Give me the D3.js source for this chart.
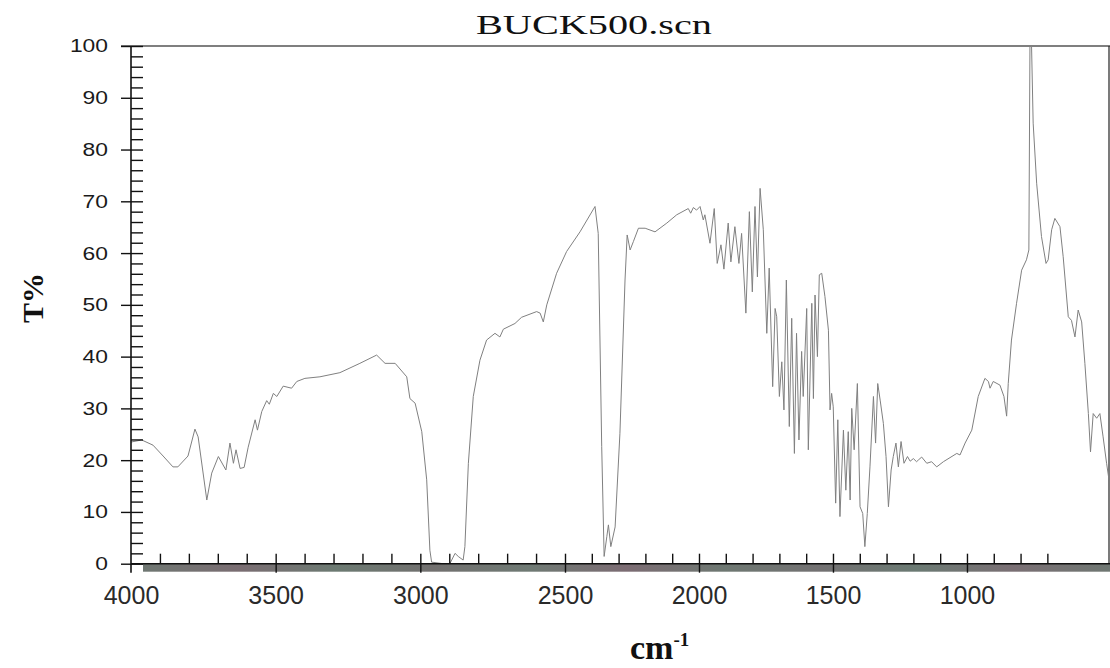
<!DOCTYPE html>
<html><head><meta charset="utf-8">
<script src="https://cdn.jsdelivr.net/npm/d3@7"></script>
<style>body{margin:0;background:#fff}svg{display:block}</style>
</head><body>
<svg id="chart" width="1110" height="668"></svg>
<script>
const chartTitle = "BUCK500.scn";
const xAxisTitle = "cm";
const xAxisTitleSup = "-1";
const yAxisTitle = "T%";
const xMajorTicks = [4000, 3500, 3000, 2500, 2000, 1500, 1000];
const xMinorTicks = d3.range(3900, 650, -100);
const yMajorTicks = [0, 10, 20, 30, 40, 50, 60, 70, 80, 90, 100];
const yMinorTicks = d3.range(0, 101, 2);

const wavenumber = [4000,3963,3924,3889,3855,3838,3803,3779,3768,3738,3721,3698,3672,3658,3646,3637,3623,3609,3595,3571,
3563,3548,3531,3522,3508,3496,3474,3445,3427,3399,3347,3278,3209,3151,3122,3087,3047,3036,3018,2995,
2978,2967,2961,2921,2898,2880,2869,2852,2846,2834,2817,2794,2771,2742,2725,2713,2673,2650,2598,2586,
2575,2563,2529,2494,2444,2388,2376,2363,2354,2344,2338,2329,2313,2295,2276,2268,2257,2245,2226,2201,
2164,2120,2083,2040,2031,2021,2009,1996,1984,1978,1959,1943,1932,1918,1907,1891,1881,1866,1851,1841,
1825,1812,1801,1791,1782,1772,1760,1747,1738,1725,1716,1710,1700,1691,1683,1674,1663,1654,1644,1636,
1627,1617,1611,1598,1592,1579,1573,1567,1558,1551,1542,1530,1517,1511,1505,1499,1490,1482,1474,1461,
1452,1443,1436,1430,1421,1409,1399,1389,1381,1372,1362,1349,1341,1333,1324,1312,1302,1293,1283,1275,
1265,1256,1246,1235,1222,1212,1200,1188,1182,1169,1150,1132,1113,1088,1038,1026,1007,982,958,933,
920,914,902,877,862,852,846,834,815,796,778,769,765,759,753,740,722,705,697,684,
672,653,641,622,610,597,585,572,560,547,539,529,516,504,492,479,470];

const transmittance = [23.5,23.9,22.9,20.8,18.7,18.7,20.8,26.0,24.5,12.3,17.5,20.7,18.1,23.3,19.4,22.0,18.4,18.6,22.5,27.8,
25.8,29.4,31.5,30.8,32.9,32.3,34.3,33.9,35.2,35.8,36.1,36.9,38.7,40.3,38.7,38.7,36.1,31.9,31.0,25.5,
16.2,2.6,0.3,0,0,2.0,1.4,0.7,3.3,19.4,32.3,39.3,43.2,44.5,43.8,45.3,46.4,47.6,48.7,48.4,
46.7,50.0,56.1,60.3,64.1,69.0,63.8,22.6,1.4,5.2,7.5,3.3,7.1,25.2,54.8,63.5,60.6,62.2,64.8,64.8,
64.1,65.8,67.4,68.6,67.7,68.8,68.3,69.0,66.4,67.4,61.9,68.6,58.0,61.6,56.9,65.8,58.3,65.1,58.0,63.8,
48.4,68.0,52.5,69.0,55.4,72.5,64.5,44.5,57.1,34.2,49.3,47.7,32.3,39.0,29.7,54.8,26.5,47.4,21.3,44.5,
23.9,41.0,32.3,49.3,22.0,50.3,31.9,51.9,40.0,55.8,56.1,51.6,45.1,29.7,32.9,30.3,11.7,27.8,9.1,25.8,
14.2,25.5,12.3,30.0,22.0,34.8,11.0,9.7,3.3,9.7,18.7,32.3,23.3,34.8,31.6,27.1,20.7,11.0,18.1,20.7,
23.3,18.7,23.6,19.4,20.7,19.8,20.3,19.7,20.0,20.6,19.4,19.7,18.7,19.7,21.3,21.0,23.3,25.8,32.3,35.8,
35.2,33.9,35.2,34.5,32.3,28.5,34.8,43.2,50.3,56.7,58.7,60.6,100,100,85.1,73.5,63.2,58.0,58.7,64.5,
66.7,65.1,59.3,47.7,47.0,43.8,49.0,46.7,38.7,29.0,21.6,29.0,28.1,29.0,24.5,19.4,16.2];

const spectrum = wavenumber.map((w, i) => ({w, t: transmittance[i]}));

const svg = d3.select("#chart");
const x = d3.scaleLinear().domain([4000, 2500, 470]).range([131, 565, 1109]);
const y = d3.scaleLinear().domain([0, 100]).range([563.7, 46]);
const sans = "'Liberation Sans', Arial, sans-serif";
const serif = "'Liberation Serif', 'Times New Roman', serif";

// band below x axis (scanned plotter strip)
const defs = svg.append("defs");
const grad = defs.append("linearGradient").attr("id", "band").attr("x1", 0).attr("x2", 1);
const bandCols = ["#6f7772","#7a6d72","#6c7a72","#72706f","#6f7a74","#7c6c73","#6e7872","#737172","#6b7a73","#7a6f74","#6f7772"];
bandCols.forEach((c, i) => grad.append("stop").attr("offset", i / (bandCols.length - 1)).attr("stop-color", c));
svg.append("rect").attr("x", 143).attr("y", y(0)).attr("width", 1110 - 143).attr("height", 8).attr("fill", "url(#band)");

// frame: top line and right line
svg.append("line").attr("x1", 121).attr("x2", 1110).attr("y1", y(100)).attr("y2", y(100))
  .attr("stroke", "#555").attr("stroke-width", 1.5);
svg.append("line").attr("x1", 1109).attr("x2", 1109).attr("y1", y(100)).attr("y2", y(0))
  .attr("stroke", "#222").attr("stroke-width", 1.2);

// clip
defs.append("clipPath").attr("id", "plot").append("rect")
  .attr("x", 131).attr("y", y(100)).attr("width", 1109 - 131).attr("height", y(0) - y(100));

// spectrum line
svg.append("path").datum(spectrum)
  .attr("clip-path", "url(#plot)")
  .attr("fill", "none").attr("stroke", "#808080").attr("stroke-width", 1)
  .attr("stroke-linejoin", "round")
  .attr("d", d3.line().x(d => x(d.w)).y(d => y(d.t)));

function styleAxis(g) {
  g.selectAll(".domain").attr("stroke", "#111").attr("stroke-width", 1.6);
  g.selectAll(".tick line").attr("stroke", "#111").attr("stroke-width", 1.4);
}

// Y axis: labels + outer major ticks
const yAxisG = svg.append("g").attr("transform", "translate(131,0)")
  .call(d3.axisLeft(y).tickValues(yMajorTicks).tickSize(10).tickPadding(13).tickSizeOuter(0));
styleAxis(yAxisG);
yAxisG.select(".domain").attr("d", `M0,${y(100)}V${y(0) + 9}`);
yAxisG.selectAll("text")
  .attr("font-family", sans).attr("font-size", 18.5).attr("fill", "#1a1a1a")
  .attr("textLength", d => String(d).length * 12.7).attr("lengthAdjust", "spacingAndGlyphs");
// inner ticks (minor + major)
const yInner = svg.append("g").attr("transform", "translate(131,0)")
  .call(d3.axisRight(y).tickValues(yMinorTicks).tickSize(12).tickFormat("").tickSizeOuter(0));
yInner.select(".domain").remove();
styleAxis(yInner);

// X axis: labels
const xAxisG = svg.append("g").attr("transform", `translate(0,${y(0)})`)
  .call(d3.axisBottom(x).tickValues(xMajorTicks).tickFormat(d3.format("d")).tickSize(9).tickPadding(14).tickSizeOuter(0));
styleAxis(xAxisG);
xAxisG.select(".domain").attr("d", `M131,0H1110`);
xAxisG.selectAll(".tick").filter(d => d === 4000).select("line").remove();
xAxisG.selectAll("text").attr("font-family", sans).attr("font-size", 25).attr("fill", "#2a2a2a");
// inner x ticks
const xInner = svg.append("g").attr("transform", `translate(0,${y(0)})`)
  .call(d3.axisTop(x).tickValues(xMinorTicks).tickSize(10).tickFormat("").tickSizeOuter(0));
xInner.select(".domain").remove();
styleAxis(xInner);

// Title
svg.append("text").attr("x", 476).attr("y", 34)
  .attr("font-family", serif).attr("font-size", 27).attr("fill", "#111")
  .attr("textLength", 236).attr("lengthAdjust", "spacingAndGlyphs")
  .text(chartTitle);

// Y axis title
svg.append("text").attr("transform", "translate(43,298) rotate(-90)")
  .attr("text-anchor", "middle").attr("font-family", serif).attr("font-weight", "bold")
  .attr("font-size", 30).attr("fill", "#111").text(yAxisTitle);

// X axis title
const xt = svg.append("text").attr("x", 630).attr("y", 659)
  .attr("font-family", serif).attr("font-weight", "bold").attr("font-size", 34).attr("fill", "#111");
xt.append("tspan").text(xAxisTitle);
xt.append("tspan").attr("font-size", 19).attr("dy", -13).text(xAxisTitleSup);
</script>
</body></html>
